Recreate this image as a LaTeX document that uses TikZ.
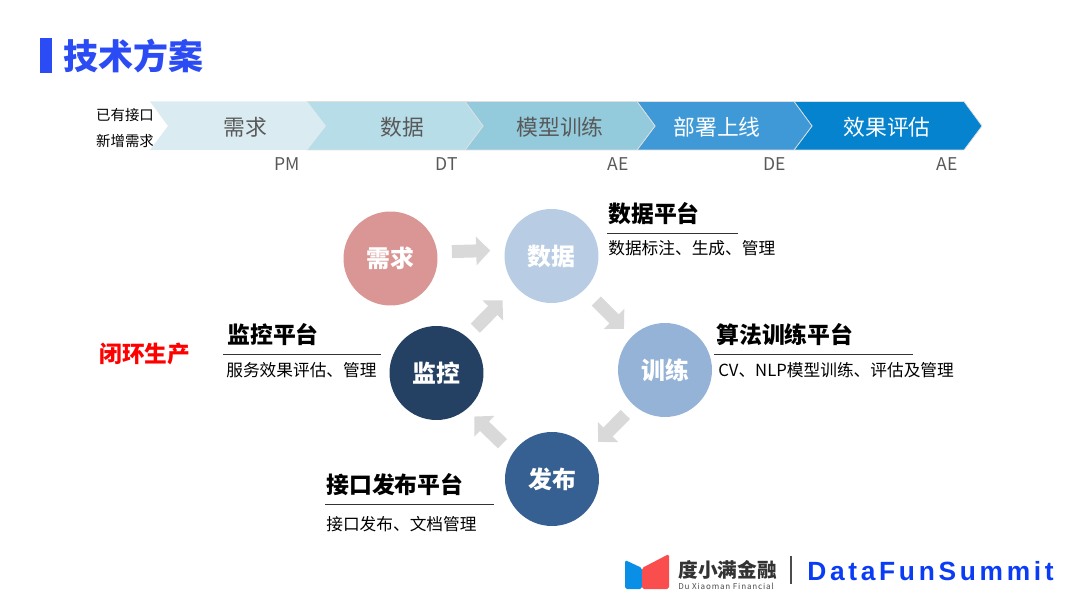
\documentclass[tikz,border=0pt]{standalone}
\usepackage{fontspec}
\setmainfont{Noto Sans CJK SC}
\newfontfamily\brandfont[LetterSpace=14]{Liberation Sans}
\newfontfamily\subfont[LetterSpace=10]{Noto Sans CJK SC}
\usepackage{xcolor}
\usetikzlibrary{
  positioning,
  arrows.meta
}
\definecolor{titleblue}{HTML}{2B4BF5}
\definecolor{brandblue}{HTML}{0A3CF5}
\definecolor{textgray}{HTML}{595959}
\definecolor{flowgray}{HTML}{D9D9D9}
\tikzset{
    stage/.style={draw=gray!25, line width=0.4pt},
    stagetext/.style={font=\fontsize{12.4pt}{14pt}\selectfont},
    role/.style={text=textgray, font=\fontsize{10pt}{12pt}\selectfont},
    ball/.style={circle, minimum size=1.88cm, inner sep=0pt, text=white,
        font=\fontsize{13.6pt}{15pt}\selectfont\bfseries},
    flow/.style={line width=0.26cm, draw=flowgray,
        -{Triangle[length=0.28cm,width=0.56cm]}},
    head/.style={font=\fontsize{13pt}{15pt}\selectfont\bfseries, inner sep=0pt, anchor=west},
    desc/.style={font=\fontsize{9.5pt}{12pt}\selectfont, inner sep=0pt, anchor=west},
    rule/.style={line width=0.5pt, black!80}
}
\begin{document}
\begin{tikzpicture}[x=0.02cm, y=-0.02cm]
\useasboundingbox (0,0) rectangle (1080,608);

% ========== 标题 ==========
\fill[titleblue] (40,38) rectangle (52,73);
\node[text=titleblue, font=\fontsize{19.9pt}{22pt}\selectfont\bfseries, inner sep=0pt, anchor=west]
    (title) at (63.5,56) {技术方案};

% ========== 顶部流程条 ==========
\foreach \a/\e/\c in {794/964/0583CE, 637/794/3F99D6, 465/637/93CBDC, 307/465/B7DDE8} {
    \definecolor{cur}{HTML}{\c}
    \draw[stage, fill=cur] (\a,101.5) -- (\e,101.5) -- (\e+18,126) -- (\e,150)
        -- (\a,150) -- (\a+18,126) -- cycle;
}
\fill[fill={rgb,255:red,218;green,236;blue,242}] (150,101.5) -- (307,101.5) -- (326,126) -- (307,150)
    -- (150,150) -- (168,126) -- cycle;
\node[stagetext, text=textgray] (s1) at (245,127) {需求};
\node[stagetext, text=textgray] (s2) at (402,127) {数据};
\node[stagetext, text=textgray] (s3) at (560,127) {模型训练};
\node[stagetext, text=white] (s4) at (717,127) {部署上线};
\node[stagetext, text=white] (s5) at (887,127) {效果评估};

\node[font=\fontsize{8.2pt}{10pt}\selectfont, inner sep=0pt] (old) at (125,115) {已有接口};
\node[font=\fontsize{8.2pt}{10pt}\selectfont, inner sep=0pt] (new) at (125,141) {新增需求};

\node[role] (r1) at (287,164) {PM};
\node[role] (r2) at (447,164) {DT};
\node[role] (r3) at (618,164) {AE};
\node[role] (r4) at (775,164) {DE};
\node[role] (r5) at (947,164) {AE};

% ========== 闭环 ==========
\node[text=red, font=\fontsize{12.9pt}{14pt}\selectfont\bfseries] (loop) at (145,354) {闭环生产};

\node[ball, fill={rgb,255:red,217;green,150;blue,148}] (xuqiu) at (390.5,258.5) {需求};
\node[ball, fill={rgb,255:red,184;green,204;blue,228}] (shuju) at (551.5,256) {数据};
\node[ball, fill={rgb,255:red,149;green,179;blue,215}] (xunlian) at (665,370) {训练};
\node[ball, fill={rgb,255:red,54;green,96;blue,146}] (fabu) at (552,479) {发布};
\node[ball, fill={rgb,255:red,36;green,64;blue,98}] (jiankong) at (436.5,373) {监控};

\draw[flow, shorten <=0.29cm, shorten >=0.286cm] (xuqiu.8.6) -- (shuju.173.9);
\draw[flow, shorten <=0.324cm, shorten >=0.216cm] (shuju) -- (xunlian);
\draw[flow, shorten <=0.244cm, shorten >=0.24cm] (xunlian.229.3) -- (fabu.37.2);
\draw[flow, shorten <=0.274cm, shorten >=0.208cm] (fabu.147) -- (jiankong.310.9);
\draw[flow, shorten <=0.24cm, shorten >=0.376cm] (jiankong.50.6) -- (shuju.221.1);

% ========== 平台说明 ==========
\node[head] (h1) at (608,214) {数据平台};
\draw[rule] (607,233.5) -- (738,233.5);
\node[desc] (d1) at (608,248) {数据标注、生成、管理};

\node[head] (h2) at (716,335) {算法训练平台};
\draw[rule] (714,354.5) -- (913,354.5);
\node[desc] (d2) at (718,370) {CV、NLP模型训练、评估及管理};

\node[head] (h3) at (227,335) {监控平台};
\draw[rule] (223,354.5) -- (381,354.5);
\node[desc] (d3) at (226,370) {服务效果评估、管理};

\node[head] (h4) at (326,485) {接口发布平台};
\draw[rule] (325,504.5) -- (494,504.5);
\node[desc] (d4) at (326,524) {接口发布、文档管理};

% ========== 页脚标识 ==========
\fill[rounded corners=1pt, fill={rgb,255:red,10;green,143;blue,230}] (625,560) -- (642,568) -- (642,589) -- (625,589) -- cycle;
\fill[rounded corners=1pt, fill={rgb,255:red,250;green,77;blue,77}] (642,568) -- (669,554) -- (669,589) -- (642,589) -- cycle;
\node[text=black!80, font=\fontsize{11.2pt}{13pt}\selectfont\bfseries, inner sep=0pt, anchor=west]
    (brand) at (678,570) {度小满金融};
\node[text=black!70, font=\fontsize{4.6pt}{5pt}\subfont, inner sep=0pt, anchor=west]
    (brandsub) at (678,586) {Du Xiaoman Financial};
\draw[black!70, line width=0.6pt] (791,556) -- (791,584);
\node[text=brandblue, font=\fontsize{15pt}{17pt}\brandfont\bfseries, inner sep=0pt, anchor=west]
    (summit) at (807,571) {DataFunSummit};
\end{tikzpicture}
\end{document}
